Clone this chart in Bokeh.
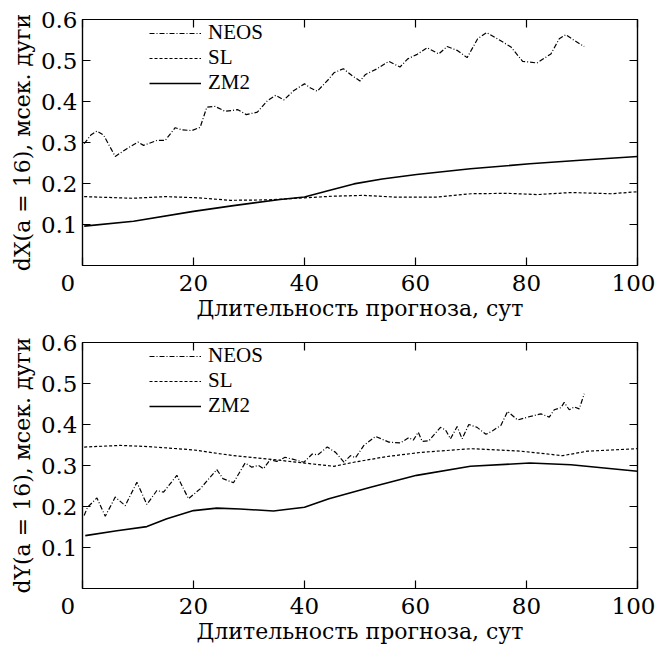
from bokeh.plotting import figure
from bokeh.models import Range1d, LinearAxis, FixedTicker, Legend, LegendItem
from bokeh.layouts import column
from bokeh.embed import file_html
from bokeh.resources import INLINE

FONT_AXIS = "DejaVu Serif"
FONT_LEGEND = "Liberation Serif"

x_ticks = [0, 20, 40, 60, 80, 100]
y_ticks = [0.1, 0.2, 0.3, 0.4, 0.5, 0.6]
series_names = ["NEOS", "SL", "ZM2"]
x_title = "Длительность прогноза, сут"
y_title_top = "dX(a = 16), мсек. дуги"
y_title_bottom = "dY(a = 16), мсек. дуги"

# ---- upper panel (dX) ----
neos_x_top = [0.3, 1.5, 2.6, 3.8, 5.9, 8.0, 10.0, 11.0, 13.4, 14.9, 16.7, 17.9, 19.7, 21.2,
              22.4, 23.9, 25.7, 28.0, 29.5, 31.5, 33.3, 34.8, 36.3, 38.1, 40.0, 41.1, 42.3,
              44.4, 45.3, 47.0, 48.6, 50.0, 51.0, 53.1, 55.2, 57.2, 58.6, 60.3, 62.1, 64.2,
              65.7, 67.6, 69.3, 71.2, 72.8, 75.0, 77.2, 79.3, 81.9, 84.4, 85.9, 87.1, 88.6, 90.4]
neos_y_top = [0.297, 0.318, 0.328, 0.318, 0.266, 0.285, 0.301, 0.293, 0.305, 0.305, 0.336, 0.331,
              0.329, 0.337, 0.386, 0.388, 0.376, 0.380, 0.368, 0.374, 0.402, 0.415, 0.404, 0.427,
              0.443, 0.433, 0.425, 0.455, 0.470, 0.480, 0.463, 0.450, 0.466, 0.480, 0.498, 0.484,
              0.504, 0.515, 0.531, 0.516, 0.534, 0.524, 0.507, 0.553, 0.568, 0.551, 0.533, 0.498,
              0.494, 0.516, 0.553, 0.563, 0.549, 0.534]
sl_x_top = [0.3, 9.0, 15.0, 21.0, 26.6, 33.3, 40.0, 45.0, 50.7, 56.1, 64.0, 70.0, 76.6, 82.0,
            88.0, 95.2, 100.0]
sl_y_top = [0.168, 0.164, 0.168, 0.165, 0.159, 0.160, 0.165, 0.169, 0.171, 0.167, 0.167, 0.175,
            0.176, 0.173, 0.178, 0.175, 0.180]
zm_x_top = [0.3, 9.2, 20.0, 27.2, 35.6, 40.0, 44.4, 48.9, 54.0, 60.2, 69.9, 80.6, 91.0, 100.0]
zm_y_top = [0.096, 0.108, 0.132, 0.146, 0.161, 0.167, 0.183, 0.199, 0.211, 0.222, 0.236, 0.248,
            0.258, 0.266]

# ---- lower panel (dY) ----
neos_x_bot = [0.3, 0.9, 2.6, 4.1, 5.9, 7.7, 9.8, 11.6, 13.4, 14.6, 17.0, 19.1, 21.2, 24.2, 25.3,
              27.2, 29.3, 30.5, 31.7, 32.6, 33.8, 35.0, 36.5, 38.0, 39.9, 41.4, 42.4, 44.1, 45.6,
              47.1, 48.3, 49.2, 50.7, 52.8, 55.2, 57.3, 58.8, 59.6, 60.5, 61.2, 62.4, 64.5, 65.4,
              66.3, 67.5, 68.4, 69.6, 71.1, 72.7, 73.9, 75.4, 76.6, 78.4, 80.2, 82.6, 84.1, 85.0,
              86.2, 86.8, 87.7, 88.6, 89.5, 90.4]
neos_y_bot = [0.178, 0.198, 0.221, 0.176, 0.223, 0.202, 0.259, 0.205, 0.239, 0.235, 0.276, 0.219,
              0.243, 0.290, 0.268, 0.258, 0.306, 0.296, 0.300, 0.292, 0.314, 0.310, 0.320, 0.315,
              0.308, 0.328, 0.326, 0.345, 0.332, 0.308, 0.324, 0.319, 0.349, 0.371, 0.357, 0.355,
              0.368, 0.362, 0.381, 0.359, 0.360, 0.393, 0.387, 0.365, 0.395, 0.365, 0.400, 0.393,
              0.376, 0.385, 0.398, 0.432, 0.411, 0.418, 0.426, 0.418, 0.436, 0.441, 0.454, 0.436,
              0.443, 0.438, 0.475]
sl_x_bot = [0.3, 6.8, 12.0, 20.0, 27.2, 33.3, 40.0, 45.3, 48.9, 54.9, 61.0, 70.0, 79.0, 86.5,
            91.0, 100.0]
sl_y_bot = [0.345, 0.349, 0.346, 0.338, 0.324, 0.316, 0.306, 0.298, 0.308, 0.322, 0.332, 0.341,
            0.335, 0.324, 0.335, 0.341]
zm_x_bot = [0.5, 6.2, 11.6, 15.2, 20.0, 24.2, 28.4, 34.4, 40.0, 44.4, 51.9, 60.2, 69.9, 80.6,
            88.0, 100.0]
zm_y_bot = [0.129, 0.141, 0.151, 0.170, 0.190, 0.196, 0.194, 0.189, 0.198, 0.219, 0.247, 0.276,
            0.298, 0.306, 0.302, 0.286]


def make_fig(ylabel, nx, ny, sx, sy, zx, zy, top, bottom):
    p = figure(frame_width=555, frame_height=246,
               x_range=Range1d(0, 100), y_range=Range1d(0, 0.6),
               output_backend="svg", toolbar_location=None,
               min_border_left=82, min_border_right=18,
               min_border_top=top, min_border_bottom=bottom,
               background_fill_color="white", border_fill_color="white",
               outline_line_color="black", outline_line_width=1.2)
    p.xgrid.visible = False
    p.ygrid.visible = False

    for ax, ticks in ((p.xaxis[0], x_ticks), (p.yaxis[0], y_ticks)):
        ax.ticker = FixedTicker(ticks=ticks)
        ax.major_tick_in = 8
        ax.major_tick_out = 0
        ax.minor_tick_in = 0
        ax.minor_tick_out = 0
        ax.axis_line_color = "black"
        ax.axis_line_width = 1.2
        ax.major_tick_line_width = 1.2
        ax.major_label_text_font = FONT_AXIS
        ax.major_label_text_font_size = "23px"
        ax.major_label_text_color = "black"
        ax.axis_label_text_font = FONT_AXIS
        ax.axis_label_text_font_size = "22px"
        ax.axis_label_text_font_style = "normal"
        ax.axis_label_text_color = "black"

    p.xaxis[0].axis_label = x_title
    p.xaxis[0].major_label_standoff = 4
    p.xaxis[0].axis_label_standoff = -3
    p.xaxis[0].major_label_overrides = {0: "0\u00a0\u00a0\u00a0\u00a0"}
    p.yaxis[0].axis_label = ylabel
    p.yaxis[0].major_label_standoff = 5
    p.yaxis[0].axis_label_standoff = 3

    for loc, ticks in (("right", y_ticks), ("above", x_ticks)):
        ax = LinearAxis(ticker=FixedTicker(ticks=ticks), major_tick_in=8, major_tick_out=0,
                        minor_tick_in=0, minor_tick_out=0,
                        major_label_overrides={t: "" for t in ticks},
                        major_label_standoff=0, axis_line_color="black", axis_line_width=1.2,
                        major_tick_line_width=1.2)
        p.add_layout(ax, loc)

    r1 = p.line(nx, ny, line_color="black", line_width=1.2, line_dash="5 2 1 2")
    r2 = p.line(sx, sy, line_color="black", line_width=1.2, line_dash="3 2")
    r3 = p.line(zx, zy, line_color="black", line_width=1.6)

    legend = Legend(items=[LegendItem(label=series_names[0], renderers=[r1]),
                           LegendItem(label=series_names[1], renderers=[r2]),
                           LegendItem(label=series_names[2], renderers=[r3])],
                    location=(67, 170), border_line_color=None, background_fill_alpha=0,
                    label_text_font=FONT_LEGEND, label_text_font_size="21px",
                    label_text_color="black",
                    glyph_width=52, glyph_height=22, label_height=22, label_standoff=7,
                    spacing=0, padding=0, margin=0)
    p.add_layout(legend)
    return p


p1 = make_fig(y_title_top, neos_x_top, neos_y_top, sl_x_top, sl_y_top, zm_x_top, zm_y_top, 19, 62)
p2 = make_fig(y_title_bottom, neos_x_bot, neos_y_bot, sl_x_bot, sl_y_bot, zm_x_bot, zm_y_bot, 15, 61)

layout = column(p1, p2)
open("out.html", "w").write(file_html(layout, INLINE))
